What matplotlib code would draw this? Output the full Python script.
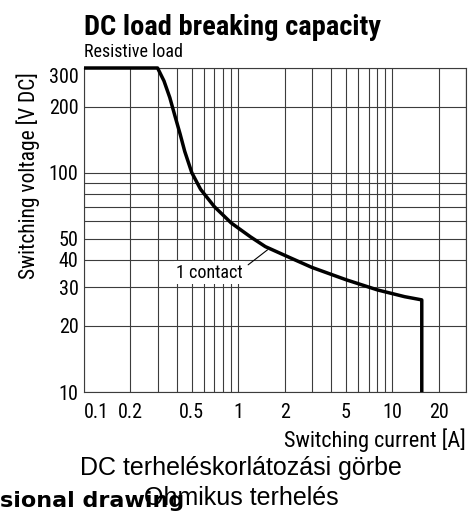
import matplotlib
matplotlib.use("Agg")
import matplotlib.pyplot as plt

# curve (current in A, voltage in V DC)
current = [0.1, 0.3, 0.33, 0.36, 0.39, 0.42, 0.45, 0.5, 0.57, 0.7, 0.9, 1.2, 1.5, 2, 3, 5, 8, 12, 15.5, 15.5]
voltage = [300, 300, 262, 220, 180, 150, 125, 100, 84, 70, 59, 51, 46, 42, 37, 32.5, 29.2, 27.2, 26.3, 10]

x_ticks = [0.1, 0.2, 0.5, 1, 2, 5, 10, 20]
x_tick_labels = ["0.1", "0.2", "0.5", "1", "2", "5", "10", "20"]
y_ticks = [10, 20, 30, 40, 50, 100, 200, 300]
y_tick_labels = ["10", "20", "30", "40", "50", "100", "200", "300"]
x_grid = [m * d for d in (0.1, 1, 10) for m in range(1, 10)] + [30]
y_grid = [10, 20, 30, 40, 50, 60, 70, 80, 90, 100, 200, 300]

narrow = ["Roboto Condensed", "DejaVu Sans"]
arial = ["Liberation Sans", "DejaVu Sans"]
grid_col = "#3c3c3c"

W, H = 475, 513
fig = plt.figure(figsize=(W / 100, H / 100), dpi=100)
ax = fig.add_axes([84 / W, 1 - 392 / H, (466 - 84) / W, (392 - 68) / H])
ax.set_xscale("log")
ax.set_yscale("log")
ax.set_xlim(0.1, 30)
ax.set_ylim(10, 300)

# grid
for gx in x_grid:
    ax.axvline(gx, color=grid_col, lw=0.8, zorder=1)
for gy in y_grid:
    ax.axhline(gy, color=grid_col, lw=0.8, zorder=1)

ax.plot(current, voltage, color="black", lw=2.5, solid_capstyle="butt",
        solid_joinstyle="round", zorder=3, clip_on=False)

# label with leader line
ax.annotate("1 contact", xy=(1.55, 44.5), xytext=(0.65, 35), ha="center", va="center",
            fontsize=13, family=narrow,
            bbox=dict(boxstyle="square,pad=0.12", fc="white", ec="none"),
            arrowprops=dict(arrowstyle="-", color="black", lw=0.8, shrinkA=3, shrinkB=0,
                            relpos=(1.0, 0.7)),
            zorder=4)

ax.set_xticks(x_ticks, x_tick_labels)
ax.set_xticks([], minor=True)
ax.set_yticks(y_ticks, y_tick_labels)
ax.set_yticks([], minor=True)
ax.tick_params(axis="x", length=0, labelsize=14.5, pad=8)
ax.tick_params(axis="y", length=0, labelsize=14.5, pad=4)
for lab in ax.get_xticklabels() + ax.get_yticklabels():
    lab.set_family(narrow)
ax.get_xticklabels()[0].set_ha("left")
ax.get_yticklabels()[-1].set_va("top")

for s in ax.spines.values():
    s.set_color(grid_col)
    s.set_linewidth(0.8)

fig.text(28 / W, 1 - 176 / H, "Switching voltage [V DC]", rotation=90, ha="center", va="center",
         fontsize=15.5, family=narrow)
fig.text(466 / W, 1 - 447 / H, "Switching current [A]", ha="right", va="baseline",
         fontsize=16, family=narrow)
fig.text(84 / W, 1 - 35 / H, "DC load breaking capacity", ha="left", va="baseline",
         fontsize=20.5, fontweight="bold", family=narrow)
fig.text(84 / W, 1 - 57 / H, "Resistive load", ha="left", va="baseline",
         fontsize=13, family=narrow)

fig.text(240.5 / W, 1 - 475 / H, "DC terheléskorlátozási görbe", ha="center", va="baseline",
         fontsize=18, family=arial)
fig.text(0, 1 - 507 / H, "sional drawing", ha="left", va="baseline",
         fontsize=16, fontweight="bold", family=["DejaVu Sans"])
fig.text(241.5 / W, 1 - 505 / H, "Ohmikus terhelés", ha="center", va="baseline",
         fontsize=18, family=arial)

fig.savefig("out.png", dpi=100)
